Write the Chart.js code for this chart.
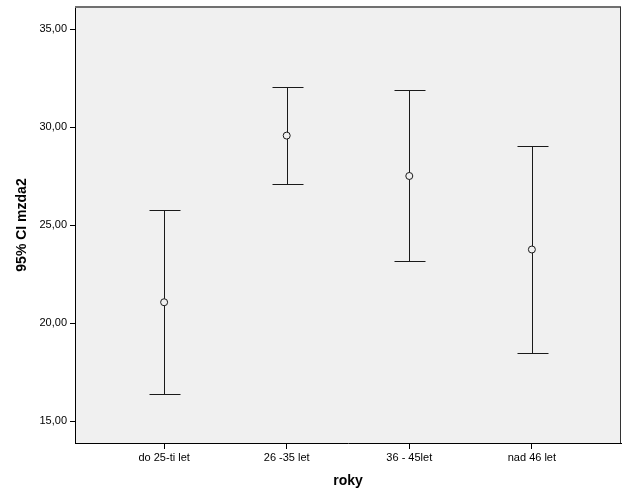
<!DOCTYPE html>
<html>
<head>
<meta charset="utf-8">
<script src="https://cdn.jsdelivr.net/npm/chart.js@4/dist/chart.umd.min.js"></script>
<style>
  html, body { margin: 0; padding: 0; background: #fff; }
  #wrap { width: 629px; height: 504px; }
</style>
</head>
<body>
<div id="wrap"><canvas id="chart" width="629" height="504"></canvas></div>
<script>
// Data
const categories = ['do 25-ti let', '26 -35 let', '36 - 45let', 'nad 46 let'];
const means = [21.08, 29.58, 27.52, 23.77];
const lowerCI = [16.40, 27.13, 23.16, 18.50];
const upperCI = [25.79, 32.06, 31.89, 29.05];
const yTicks = [15, 20, 25, 30, 35];

const FONT = "'Liberation Sans', Arial, sans-serif";

// Background and frame of the plot area
const plotBackground = {
    id: 'plotBackground',
    beforeDraw(chart) {
        const { ctx, chartArea: a } = chart;
        ctx.save();
        ctx.fillStyle = '#f0f0f0';
        ctx.fillRect(a.left, a.top, a.right - a.left, a.bottom - a.top);
        ctx.restore();
    },
    afterDraw(chart) {
        const { ctx, chartArea: a } = chart;
        ctx.save();
        // top edge (grey)
        ctx.strokeStyle = '#707070';
        ctx.lineWidth = 2;
        ctx.beginPath();
        ctx.moveTo(Math.round(a.left), Math.round(a.top));
        ctx.lineTo(Math.round(a.right), Math.round(a.top));
        ctx.stroke();
        // right edge
        ctx.strokeStyle = '#333';
        ctx.lineWidth = 1;
        ctx.beginPath();
        ctx.moveTo(Math.round(a.right) - 0.5, Math.round(a.top));
        ctx.lineTo(Math.round(a.right) - 0.5, Math.round(a.bottom));
        ctx.stroke();
        ctx.restore();
    }
};

// Error bars (95% CI) drawn through the chart scales
const errorBars = {
    id: 'errorBars',
    beforeDatasetsDraw(chart) {
        const { ctx, scales: { x, y } } = chart;
        ctx.save();
        ctx.strokeStyle = '#1a1a1a';
        ctx.lineWidth = 1;
        categories.forEach((c, i) => {
            const px = Math.round(x.getPixelForValue(i)) + 0.5;
            const yTop = Math.round(y.getPixelForValue(upperCI[i])) + 0.5;
            const yLow = Math.round(y.getPixelForValue(lowerCI[i])) + 0.5;
            ctx.beginPath();
            ctx.moveTo(px, yTop);
            ctx.lineTo(px, yLow);
            ctx.moveTo(px - 15, yTop);
            ctx.lineTo(px + 16, yTop);
            ctx.moveTo(px - 15, yLow);
            ctx.lineTo(px + 16, yLow);
            ctx.stroke();
        });
        ctx.restore();
    }
};

new Chart(document.getElementById('chart'), {
    type: 'scatter',
    data: {
        datasets: [{
            data: means.map((m, i) => ({ x: i, y: m })),
            pointStyle: 'circle',
            pointRadius: 3.5,
            pointBorderWidth: 1,
            pointBorderColor: '#1a1a1a',
            pointBackgroundColor: '#f0f0f0'
        }]
    },
    options: {
        responsive: false,
        animation: false,
        events: [],
        layout: { padding: { left: 10, top: 7, right: 8, bottom: 10 } },
        plugins: {
            legend: { display: false },
            tooltip: { enabled: false }
        },
        scales: {
            x: {
                type: 'linear',
                min: -0.727,
                max: 3.727,
                afterBuildTicks: s => { s.ticks = categories.map((_, i) => ({ value: i })); },
                afterFit: s => { s.height = 51; s.paddingLeft = 0; s.paddingRight = 0; },
                ticks: {
                    callback: v => categories[v],
                    color: '#000',
                    font: { family: FONT, size: 11 },
                    padding: 2,
                    maxRotation: 0,
                    autoSkip: false
                },
                grid: { drawOnChartArea: false, drawTicks: true, tickLength: 6, color: '#000' },
                border: { display: true, color: '#000', width: 1 },
                title: {
                    display: true,
                    text: 'roky',
                    color: '#000',
                    font: { family: FONT, size: 14, weight: 'bold' },
                    padding: { top: 4, bottom: 4 }
                }
            },
            y: {
                min: 13.9,
                max: 36.14,
                afterBuildTicks: s => { s.ticks = yTicks.map(v => ({ value: v })); },
                afterFit: s => { s.width = 65; s.paddingTop = 0; s.paddingBottom = 0; },
                ticks: {
                    callback: v => v.toFixed(2).replace('.', ','),
                    color: '#000',
                    font: { family: FONT, size: 11 },
                    padding: 3
                },
                grid: { drawOnChartArea: false, drawTicks: true, tickLength: 5, color: '#000' },
                border: { display: true, color: '#000', width: 1 },
                title: {
                    display: true,
                    text: '95% CI mzda2',
                    color: '#000',
                    font: { family: FONT, size: 14, weight: 'bold' },
                    padding: { top: 4, bottom: 4 }
                }
            }
        }
    },
    plugins: [plotBackground, errorBars]
});
</script>
</body>
</html>
